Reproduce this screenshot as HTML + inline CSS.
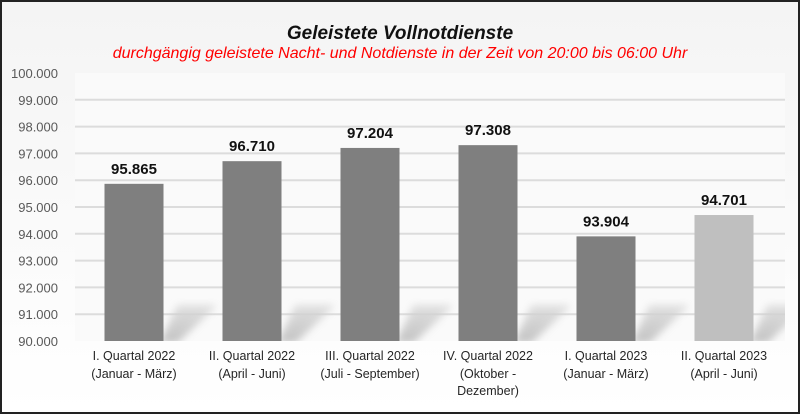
<!DOCTYPE html>
<html><head><meta charset="utf-8"><style>
html,body{margin:0;padding:0;}
body{width:800px;height:414px;overflow:hidden;font-family:"Liberation Sans",sans-serif;}
</style></head><body>
<svg id="chart" width="800" height="414" xmlns="http://www.w3.org/2000/svg">
<defs>
<linearGradient id="bg" x1="0" y1="0" x2="0" y2="1"><stop offset="0" stop-color="#f4f4f4"/><stop offset="1" stop-color="#ffffff"/></linearGradient>
<linearGradient id="sh" x1="0" y1="1" x2="0" y2="0"><stop offset="0" stop-color="#b4b4b4"/><stop offset="1" stop-color="#dadada"/></linearGradient>
<filter id="blur" x="-40%" y="-40%" width="180%" height="180%"><feGaussianBlur stdDeviation="4"/></filter>
<clipPath id="plotclip"><rect x="75" y="73" width="710" height="268"/></clipPath>
</defs>
<rect x="1" y="1" width="798" height="412" fill="url(#bg)" stroke="#222" stroke-width="2"/>
<rect x="75" y="73" width="710" height="268" fill="#fafafa"/>
<text x="400" y="39" text-anchor="middle" font-size="19" font-weight="bold" font-style="italic" fill="#111">Geleistete  Vollnotdienste</text>
<text x="400" y="58" text-anchor="middle" font-size="16" font-style="italic" fill="#f00">durchgängig geleistete Nacht- und Notdienste in der Zeit von 20:00 bis 06:00 Uhr</text>
<g id="grid"></g><g id="shadows" clip-path="url(#plotclip)"></g><g id="bars"></g><g id="labels"></g>
</svg>
<script>
const categories1=["I. Quartal 2022","II. Quartal 2022","III. Quartal 2022","IV. Quartal 2022","I. Quartal 2023","II. Quartal 2023"];
const categories2=[["(Januar - März)"],["(April - Juni)"],["(Juli - September)"],["(Oktober -","Dezember)"],["(Januar - März)"],["(April - Juni)"]];
const values=[95865,96710,97204,97308,93904,94701];
const valueLabels=["95.865","96.710","97.204","97.308","93.904","94.701"];
const ticks=[90000,91000,92000,93000,94000,95000,96000,97000,98000,99000,100000];
const tickLabels=["90.000","91.000","92.000","93.000","94.000","95.000","96.000","97.000","98.000","99.000","100.000"];
const NS="http://www.w3.org/2000/svg";
const y=v=>341-(v-90000)/10000*268;
const bandW=118, x0=75;
const xc=i=>x0+bandW*(i+0.5);
function mk(t,a,p){const e=document.createElementNS(NS,t);for(const k in a)e.setAttribute(k,a[k]);p.appendChild(e);return e;}
const grid=document.getElementById('grid'),bars=document.getElementById('bars'),labels=document.getElementById('labels'),shadows=document.getElementById('shadows');
ticks.forEach((t,i)=>{
 if(i>0&&i<ticks.length-1){const l=mk('line',{x1:75,x2:785,y1:y(t),y2:y(t),stroke:'#dcdcdc','stroke-width':2},grid);
 
 }
 const tx=mk('text',{x:58,y:y(t)+5,'text-anchor':'end','font-size':13,fill:'#595959'},labels);
 tx.textContent=tickLabels[i];
 
 
});
values.forEach((v,i)=>{
 const cx=xc(i),w=59,bx=cx-w/2;
 const sh=mk('polygon',{points:`${bx+w-4},343 ${bx+w+14},305 ${bx+w+54},305 ${bx+w+14},343`,fill:'url(#sh)',filter:'url(#blur)',opacity:0.8},shadows);
 
 
 const r=mk('rect',{x:bx,y:y(v),width:w,height:341-y(v),fill:i==5?'#bfbfbf':'#7f7f7f'},bars);
 
 
 const vl=mk('text',{x:cx,y:y(v)-10,'text-anchor':'middle','font-size':15,'font-weight':'bold',fill:'#111'},labels);
 vl.textContent=valueLabels[i];
 
 
 const c1=mk('text',{x:cx,y:360,'text-anchor':'middle','font-size':12.5,fill:'#262626'},labels);
 c1.textContent=categories1[i];
 
 
 categories2[i].forEach((s,j)=>{
  const c2=mk('text',{x:cx,y:378+j*17,'text-anchor':'middle','font-size':12.5,fill:'#262626'},labels);
  c2.textContent=s;
  
  
 });
});
</script>
</body></html>
